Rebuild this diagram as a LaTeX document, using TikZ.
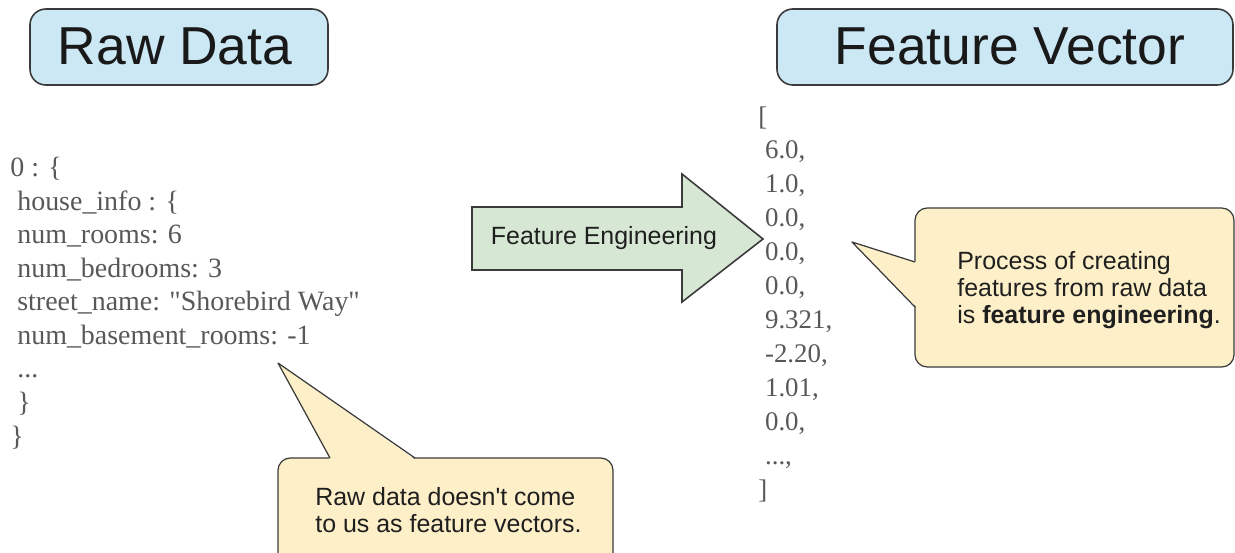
\documentclass[tikz,border=0pt]{standalone}
\usepackage{fontspec}
\setmainfont{Liberation Sans}
\newfontfamily\codefont{Liberation Serif}
\usetikzlibrary{calc}
\definecolor{titleblue}{HTML}{CCE8F5}
\definecolor{arrowgreen}{HTML}{D6E8D3}
\definecolor{noteyellow}{HTML}{FDEFC8}
\definecolor{edgegray}{HTML}{3A3A3A}
\definecolor{codegray}{HTML}{585858}
\tikzset{
  titlebox/.style={draw=edgegray, line width=0.9pt, fill=titleblue, rounded corners=9pt},
  titletext/.style={inner sep=0pt, font=\fontsize{30.4}{34}\selectfont, text=black!90},
  codetext/.style={inner sep=0pt, anchor=base west, align=left, text=codegray,
    font=\codefont\fontsize{15.3}{19.3}\selectfont},
  notetext/.style={inner sep=0pt, anchor=base west, align=left, text=black!88,
    font=\fontsize{14.2}{15.3}\selectfont},
  notebox/.style={draw=edgegray, line width=0.7pt, fill=noteyellow, rounded corners=7pt},
}

\begin{document}
\begin{tikzpicture}[x=0.02cm, y=-0.02cm]
  \useasboundingbox (0,0) rectangle (1235,552);
  \clip (0,0) rectangle (1235,552);

  %%%%% titles %%%%%
  \draw[titlebox] (30,9) rectangle (328,85);
  \node[titletext] (rawtitle) at (175,46) {Raw Data};
  \draw[titlebox] (777,9) rectangle (1233,85);
  \node[titletext] (vectitle) at (1010,46) {Feature Vector};

  %%%%% raw record %%%%%
  \node[codetext, font=\codefont\fontsize{15.9}{19.1}\selectfont] (rawcode) at (10,445) {0 : \{\\
    \ house\textunderscore info : \{\\
    \ num\textunderscore rooms: 6\\
    \ num\textunderscore bedrooms: 3\\
    \ street\textunderscore name: "Shorebird Way"\\
    \ num\textunderscore basement\textunderscore rooms: -1\\
    \ ...\\
    \ \}\\
    \}};

  %%%%% feature vector %%%%%
  \node[codetext] (veccode) at (758,498) {[\\
    \ 6.0,\\
    \ 1.0,\\
    \ 0.0,\\
    \ 0.0,\\
    \ 0.0,\\
    \ 9.321,\\
    \ -2.20,\\
    \ 1.01,\\
    \ 0.0,\\
    \ ...,\\
    ]};

  %%%%% arrow %%%%%
  \draw[draw=edgegray, line width=0.9pt, fill=arrowgreen]
    (472,207) -- (682,207) -- (682,174) -- (763,239) -- (682,302) -- (682,270) -- (472,270) -- cycle;
  \node[inner sep=0pt, font=\fontsize{14.2}{17}\selectfont, text=black!88] (fe) at (604,238) {Feature Engineering};

  %%%%% note under the record %%%%%
  \draw[notebox] (278,458) rectangle (613,580);
  \fill[noteyellow] (330,459.5) -- (278,363) -- (415,459.5) -- cycle;
  \draw[draw=edgegray, line width=0.7pt, line join=round] (330,458) -- (278,363) -- (415,458);
  \node[notetext] (rawnote) at (315,532) {Raw data doesn\textquotesingle t come\\to us as feature vectors.};

  %%%%% note beside the vector %%%%%
  \draw[notebox] (915,208) rectangle (1234,367);
  \fill[noteyellow] (916.5,262) -- (852,242) -- (916.5,307) -- cycle;
  \draw[draw=edgegray, line width=0.7pt, line join=round] (915,262) -- (852,242) -- (915,307);
  \node[notetext] (fenote) at (957,323) {Process of creating\\features from raw data\\is \textbf{feature engineering}.};

\end{tikzpicture}
\end{document}
